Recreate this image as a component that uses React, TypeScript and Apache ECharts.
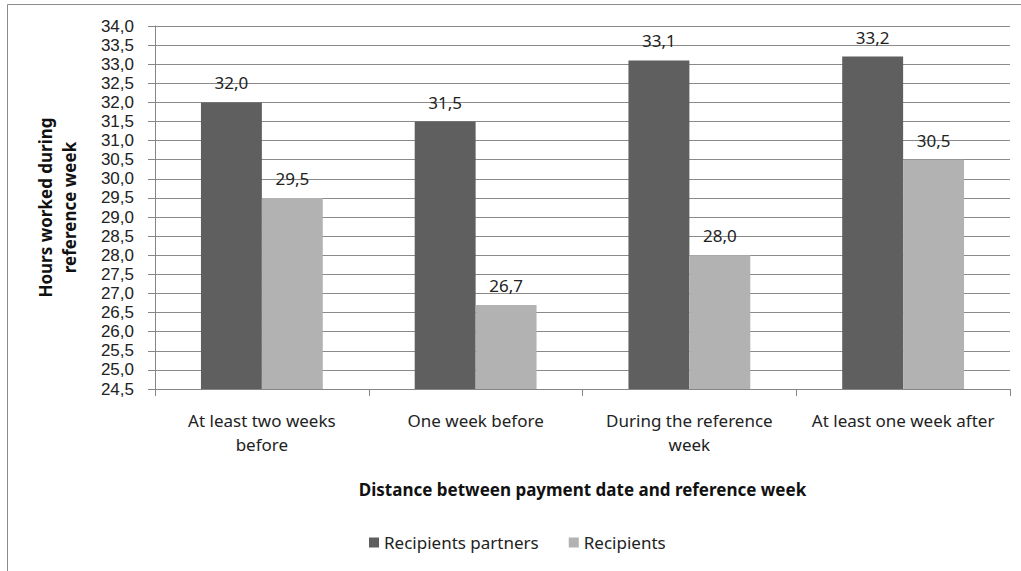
import React, { useEffect, useRef } from "react";
import * as echarts from "echarts";

const categories = [
  "At least two weeks\nbefore",
  "One week before",
  "During the reference\nweek",
  "At least one week after",
];
const partnersValues = [32.0, 31.5, 33.1, 33.2];
const recipientsValues = [29.5, 26.7, 28.0, 30.5];
const seriesNames = ["Recipients partners", "Recipients"];
const yMin = 24.5;
const yMax = 34.0;
const yStep = 0.5;

const fmt = (v: number) => v.toFixed(1).replace(".", ",");

export default function App() {
  const ref = useRef<HTMLDivElement>(null);
  useEffect(() => {
    if (!ref.current) return;
    const chart = echarts.init(ref.current, null, { renderer: "svg" });
    const labelStyle = {
      show: true,
      position: "top" as const,
      distance: 11,
      color: "#222",
      fontSize: 17,
      fontFamily: "Noto Sans",
      formatter: (p: any) => fmt(p.value),
    };
    chart.setOption({
      animation: false,
      backgroundColor: "#fff",
      graphic: [
        {
          type: "rect",
          shape: { x: 7.5, y: 4.5, width: 1100, height: 700 },
          style: { fill: "none", stroke: "#8c8c8c", lineWidth: 1 },
          silent: true,
        },
      ],
      grid: { left: 155, right: 11, top: 26, bottom: 182 },
      legend: {
        data: seriesNames,
        top: 529,
        left: 364,
        itemWidth: 10,
        itemHeight: 10,
        itemGap: 30,
        icon: "rect",
        textStyle: { color: "#222", fontSize: 17, fontFamily: "Noto Sans" },
      },
      xAxis: {
        type: "category",
        data: categories,
        name: "Distance between payment date and reference week",
        nameLocation: "middle",
        nameGap: 92,
        nameTextStyle: { color: "#111", fontSize: 17, fontWeight: "bold", fontFamily: "Noto Sans" },
        axisLine: { lineStyle: { color: "#868686" } },
        axisTick: { show: true, length: 7, lineStyle: { color: "#868686" } },
        axisLabel: {
          color: "#222",
          fontSize: 17,
          fontFamily: "Noto Sans",
          lineHeight: 24,
          margin: 19,
          interval: 0,
        },
      },
      yAxis: {
        type: "value",
        min: yMin,
        max: yMax,
        interval: yStep,
        name: "Hours worked during\nreference week",
        nameLocation: "middle",
        nameGap: 74,
        nameRotate: 90,
        nameTextStyle: { color: "#111", fontSize: 17, fontWeight: "bold", fontFamily: "Noto Sans", lineHeight: 24 },
        axisLine: { show: true, lineStyle: { color: "#868686" } },
        axisTick: { show: true, length: 7, lineStyle: { color: "#868686" } },
        axisLabel: {
          color: "#222",
          fontSize: 17,
          fontFamily: "Liberation Sans",
          margin: 21,
          formatter: (v: number) => fmt(v),
        },
        splitLine: { show: true, lineStyle: { color: "#8a8a8a", width: 1 } },
      },
      series: [
        {
          name: seriesNames[0],
          type: "bar",
          data: partnersValues,
          barGap: "0%",
          barCategoryGap: "43%",
          itemStyle: { color: "#5f5f5f" },
          label: labelStyle,
        },
        {
          name: seriesNames[1],
          type: "bar",
          data: recipientsValues,
          itemStyle: { color: "#b2b2b2" },
          label: labelStyle,
        },
      ],
    });
    return () => chart.dispose();
  }, []);
  return (
    <div
      ref={ref}
      style={{ position: "absolute", left: 0, top: 0, width: 1021, height: 571 }}
    />
  );
}
